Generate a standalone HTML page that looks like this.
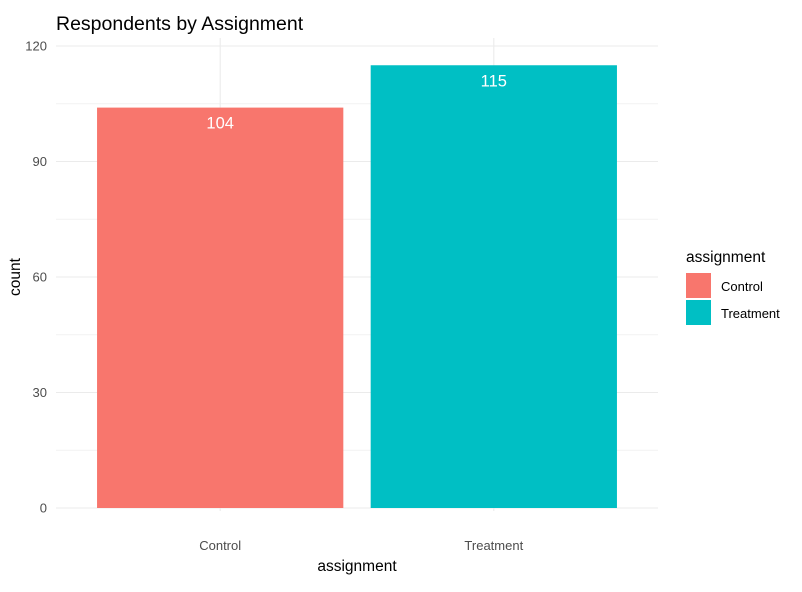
<!DOCTYPE html>
<html><head><meta charset="utf-8"><style>
body{margin:0;background:#fff;}
svg text{font-family:"Liberation Sans",Arial,sans-serif;}
</style></head><body>
<svg id="chart" width="802" height="587" xmlns="http://www.w3.org/2000/svg">
<text x="56" y="30" font-size="19.5" fill="#000">Respondents by Assignment</text>
<g id="grid"></g>
<g id="bars"></g>
<g id="axes"></g>
<text x="357" y="571" font-size="15.5" text-anchor="middle" fill="#000">assignment</text>
<text transform="translate(20,277) rotate(-90)" font-size="15.5" text-anchor="middle" fill="#000">count</text>
<g>
<text x="686" y="262" font-size="15.5" fill="#000">assignment</text>
<g id="legend-items"></g>
</g>
</svg>
<script>
const categories = ["Control", "Treatment"];
const counts = [104, 115];
const colors = ["#F8766D", "#00BFC4"];
const yTicks = [0, 30, 60, 90, 120];

const NS = "http://www.w3.org/2000/svg";
const panelLeft = 56, panelRight = 658, y0 = 508, yTop = 46, yMax = 120;
const step = (panelRight - panelLeft) / (categories.length + 0.2);
function xScale(i){ return panelLeft + step * (0.6 + i); }
function yScale(v){ return y0 - (v / yMax) * (y0 - yTop); }
function mk(tag, attrs, parent){ const e = document.createElementNS(NS, tag); for (const k in attrs) e.setAttribute(k, attrs[k]); parent.appendChild(e); return e; }

const grid = document.getElementById("grid"), bars = document.getElementById("bars"), axes = document.getElementById("axes");
for (let i = 0; i < yTicks.length - 1; i++) {
  const v = (yTicks[i] + yTicks[i+1]) / 2;
  const l = mk("line", {x1: panelLeft, x2: panelRight, y1: yScale(v), y2: yScale(v), stroke: "#f2f2f2", "stroke-width": 1}, grid);
  
  
}
yTicks.forEach(v => {
  const l = mk("line", {x1: panelLeft, x2: panelRight, y1: yScale(v), y2: yScale(v), stroke: "#ebebeb", "stroke-width": 1.1}, grid);
  
  
  const t = mk("text", {x: 47, y: yScale(v) + 4.5, "font-size": 13, "text-anchor": "end", fill: "#4d4d4d"}, axes);
  t.textContent = v;
  
  
});
categories.forEach((c, i) => {
  const cx = xScale(i);
  const g = mk("line", {x1: cx, x2: cx, y1: yTop - 8, y2: y0 + 3, stroke: "#ebebeb", "stroke-width": 1.1}, grid);
  
  
  const w = step * 0.9;
  const r = mk("rect", {x: cx - w/2, y: yScale(counts[i]), width: w, height: y0 - yScale(counts[i]), fill: colors[i]}, bars);
  
  
  const lbl = mk("text", {x: cx, y: yScale(counts[i]) + 21, "font-size": 16.5, "text-anchor": "middle", fill: "#fff"}, bars);
  lbl.textContent = counts[i];
  
  
  const t = mk("text", {x: cx, y: 550, "font-size": 13, "text-anchor": "middle", fill: "#4d4d4d"}, axes);
  t.textContent = c;
  
  
});
const li = document.getElementById("legend-items");
categories.forEach((c, i) => {
  const y = 273 + i * 27;
  const k = mk("rect", {x: 686, y: y, width: 25, height: 25, fill: colors[i]}, li);
  
  
  const t = mk("text", {x: 721, y: y + 18, "font-size": 13, fill: "#000"}, li);
  t.textContent = c;
  
  
});
</script>
</body></html>
